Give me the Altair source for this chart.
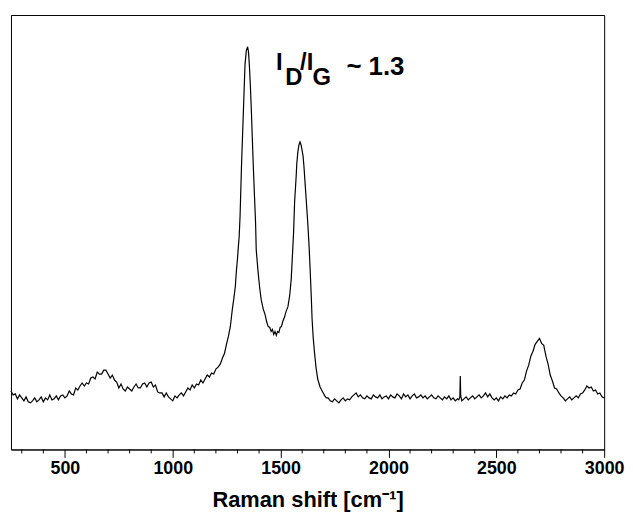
import altair as alt
import pandas as pd

# ---- spectrum (wavenumber in cm^-1, intensity in arbitrary units) ----
wn_low = [250, 260, 270, 280, 290, 300, 310, 320, 330, 340,
          350, 360, 370, 380, 390, 400, 410, 420, 430, 440,
          450, 460, 470, 480, 490, 500, 510, 520, 530, 540,
          550, 560, 570, 580, 590, 600, 610, 620, 630, 640,
          650, 660, 670, 680, 690, 700, 710, 720, 730, 740,
          750, 760, 770, 780, 790, 800, 810, 820, 830, 840,
          850, 860, 870, 880, 890, 900, 910, 920, 930, 940,
          950, 960, 970, 980, 990, 1000, 1010, 1020, 1030, 1040,
          1050, 1060, 1070, 1080, 1090, 1100, 1110, 1120, 1130, 1140,
          1150, 1160, 1170, 1180, 1190, 1200, 1210, 1220]
int_low = [59, 55, 56, 51, 55, 52, 49, 53, 48, 47,
           49, 52, 48, 50, 53, 48, 52, 50, 55, 50,
           51, 54, 50, 54, 55, 52, 54, 59, 56, 55,
           62, 60, 64, 67, 64, 67, 66, 72, 73, 71,
           78, 76, 76, 80, 80, 76, 72, 75, 70, 68,
           62, 66, 61, 59, 63, 61, 59, 63, 66, 62,
           62, 66, 67, 63, 67, 68, 63, 65, 58, 57,
           57, 53, 57, 53, 51, 49, 54, 52, 55, 57,
           54, 58, 62, 60, 65, 62, 66, 65, 70, 67,
           71, 75, 73, 77, 76, 81, 83, 86]

wn_peaks = [1230, 1240, 1249, 1258, 1267, 1276, 1283, 1290, 1295, 1300,
            1304, 1308, 1312, 1319, 1327, 1335, 1341, 1347, 1351, 1355,
            1360, 1365, 1373, 1379, 1384, 1387, 1396, 1403, 1410, 1419,
            1428, 1435, 1442, 1450, 1456, 1462, 1468, 1474, 1480, 1486,
            1492, 1498, 1504, 1510, 1519, 1525, 1534, 1542, 1549, 1557,
            1560, 1565, 1572, 1575, 1580, 1585, 1590, 1595, 1600, 1604,
            1608, 1613, 1618, 1626, 1632, 1637, 1642, 1646, 1651, 1657,
            1664, 1672, 1683, 1695, 1705, 1712]
int_peaks = [92, 97, 106, 114, 124, 141, 152, 164, 180, 192,
             204, 215, 235, 288, 338, 388, 402, 406, 401, 388,
             366, 338, 288, 255, 228, 201, 178, 163, 151, 142,
             136, 129, 124, 123, 119, 121, 116, 119, 115, 119,
             118, 123, 124, 129, 134, 139, 144, 155, 171, 205,
             218, 250, 275, 288, 300, 307, 310, 307, 301, 296,
             286, 270, 254, 228, 205, 181, 155, 131, 113, 98,
             83, 71, 63, 58, 54, 52]

wn_high = [1720, 1730, 1740, 1750, 1760, 1770, 1780, 1790, 1800, 1810,
           1820, 1830, 1840, 1850, 1860, 1870, 1880, 1890, 1900, 1910,
           1920, 1930, 1940, 1950, 1960, 1970, 1980, 1990, 2000, 2010,
           2020, 2030, 2040, 2050, 2060, 2070, 2080, 2090, 2100, 2110,
           2120, 2130, 2140, 2150, 2160, 2170, 2180, 2190, 2200, 2210,
           2220, 2230, 2240, 2250, 2260, 2270, 2280, 2290, 2300, 2310,
           2320, 2326, 2331, 2333, 2335, 2340,
           2350, 2360, 2370, 2380, 2390, 2400, 2410, 2420, 2430, 2440,
           2450, 2460, 2470, 2480, 2490, 2500, 2510, 2520, 2530, 2540,
           2550, 2560, 2570, 2580, 2590, 2600, 2610, 2620, 2630, 2640,
           2650, 2660, 2670, 2680, 2690, 2700, 2710, 2720, 2730, 2740,
           2750, 2760, 2770, 2780, 2790, 2800, 2810, 2820, 2830, 2840,
           2850, 2860, 2870, 2880, 2890, 2900, 2910, 2920, 2930, 2940,
           2950, 2960, 2970, 2980, 2990, 3000]
int_high = [52, 49, 48, 51, 49, 47, 50, 52, 49, 51,
            50, 53, 55, 57, 53, 55, 52, 51, 54, 52,
            51, 55, 53, 52, 55, 51, 53, 54, 51, 55,
            53, 52, 56, 54, 51, 56, 53, 55, 51, 54,
            56, 52, 53, 55, 52, 54, 51, 53, 55, 52,
            51, 54, 52, 50, 53, 51, 54, 50, 52, 49,
            51, 50, 53, 74, 54, 49,
            51, 53, 50, 52, 54, 51, 53, 55, 52, 54,
            57, 53, 56, 52, 50, 52, 49, 53, 51, 54,
            52, 55, 54, 57, 56, 60, 61, 67, 70, 79,
            85, 94, 99, 106, 109, 112, 107, 105, 94, 86,
            75, 69, 62, 61, 57, 54, 52, 49, 51, 53,
            50, 52, 54, 52, 56, 57, 60, 64, 62, 63,
            59, 60, 56, 57, 53, 52]

# ---- axis ticks ----
major_ticks = [500, 1000, 1500, 2000, 2500, 3000]
minor_ticks = [300, 400, 600, 700, 800, 900, 1100, 1200, 1300, 1400,
               1600, 1700, 1800, 1900, 2100, 2200, 2300, 2400,
               2600, 2700, 2800, 2900]

# ---- annotation pieces ----
ann_text = ["I", "D", "/I", "G", "~ 1.3"]
ann_x = [1479, 1521, 1590, 1648, 1805]
ann_y = [383, 367, 383, 367, 378]
ann_size = [24, 24, 24, 24, 26]

PLOT_H = 438

spec = pd.DataFrame({
    "wn": wn_low + wn_peaks + wn_high,
    "inten": int_low + int_peaks + int_high,
})
ann = pd.DataFrame({"t": ann_text, "x": ann_x, "y": ann_y, "s": ann_size})
minor_df = pd.DataFrame({"m": minor_ticks})

xscale = alt.Scale(domain=[250, 3000], nice=False, zero=False)
yscale = alt.Scale(domain=[0, 438], nice=False, zero=False)

line = alt.Chart(spec).mark_line(color="black", strokeWidth=1.2, interpolate="linear").encode(
    x=alt.X("wn:Q", scale=xscale, title="Raman shift [cm⁻¹]",
            axis=alt.Axis(values=major_ticks, format="d", ticks=True, tickSize=8,
                          labelFlush=False, labelOverlap=False, grid=False, labelPadding=2,
                          labelFontSize=18, labelFontWeight="bold",
                          titleFontSize=22, titleFontWeight="bold", titlePadding=13)),
    y=alt.Y("inten:Q", scale=yscale, axis=None),
    order="wn:Q",
)

minor = alt.Chart(minor_df).mark_rule(color="black", strokeWidth=1, clip=False).encode(
    x=alt.X("m:Q", scale=xscale),
    y=alt.value(PLOT_H),
    y2=alt.value(PLOT_H + 4),
)

text = alt.Chart(ann).mark_text(align="left", baseline="alphabetic", fontWeight="bold",
                                font="Liberation Sans", color="black").encode(
    x=alt.X("x:Q", scale=xscale),
    y=alt.Y("y:Q", scale=yscale),
    text="t:N",
    size=alt.Size("s:Q", scale=None, legend=None),
)

chart = alt.layer(line, minor, text).properties(
    width=598, height=PLOT_H,
    padding={"left": 0, "top": 5, "right": 0, "bottom": 0},
).configure_view(stroke="black", strokeWidth=1).configure_axis(
    domainColor="black", tickColor="black", labelColor="black", titleColor="black",
    labelFont="Liberation Sans", titleFont="Liberation Sans", domainWidth=1, tickWidth=1,
)

chart.save("out.html", embed_options={"renderer": "svg", "actions": False})
